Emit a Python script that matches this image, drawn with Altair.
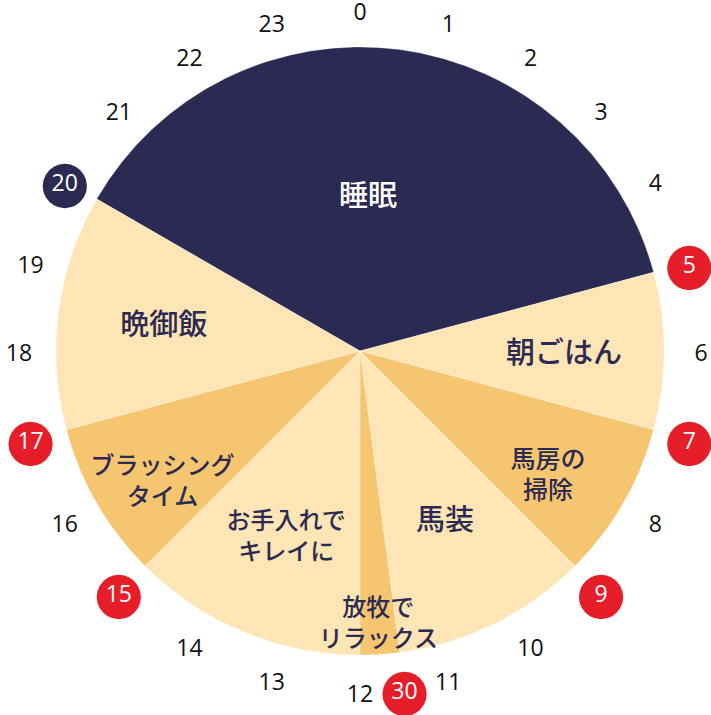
import math
import altair as alt
import pandas as pd

# ---- data -------------------------------------------------------------
activity = ["睡眠", "朝ごはん", "馬房の\n掃除", "馬装", "放牧で\nリラックス",
            "お手入れで\nキレイに", "ブラッシング\nタイム", "晩御飯"]
start_hour = [20, 5, 7, 9, 11.5, 12, 15, 17]
end_hour = [5, 7, 9, 11.5, 12, 15, 17, 20]
tone = ["night", "light", "accent", "light", "accent", "light", "accent", "light"]

hours = list(range(24))
marker_hour = [5, 7, 9, 11.5, 15, 17, 20]
marker_label = ["5", "7", "9", "30", "15", "17", "20"]
marker_tone = ["red", "red", "red", "red", "red", "red", "night"]

# ---- label layout (style) ----------------------------------------------
label_hour = [0.2, 6.05, 8.0, 10.23, 11.73, 13.56, 15.97, 18.49]
label_radius = [154, 204, 217, 190, 259, 186, 229, 198]
label_size = [29, 29, 25, 29, 24, 24, 24, 29]

NAVY = "#2b2a52"
LIGHT = "#fde5b5"
ORANGE = "#f6c56f"
RED = "#e61e2a"
JP = "Noto Sans CJK JP"
NUM = "Open Sans"

W, H = 711, 715
CX, CY = 360, 351
R = 304
LCX, LCY, LR = 360, 354, 341

seg = pd.DataFrame({"activity": activity, "start": start_hour, "end": end_hour, "tone": tone})
seg["end_u"] = [e if e > s else e + 24 for s, e in zip(seg["start"], seg["end"])]

lab = pd.DataFrame({"activity": activity, "lh": label_hour, "lr": label_radius,
                    "fs": label_size, "tone": tone})
lab["tc"] = ["#ffffff" if t == "night" else NAVY for t in tone]

marked_set = set(marker_hour)
hr = pd.DataFrame({"h": [h for h in hours if h not in marked_set]})
hr["label"] = hr["h"].astype(str)

mk = pd.DataFrame({"h": marker_hour, "label": marker_label, "tone": marker_tone})

theta_scale = alt.Scale(domain=[0, 24], range=[0, 2 * math.pi])
color_scale = alt.Scale(domain=["night", "light", "accent", "red"],
                        range=[NAVY, LIGHT, ORANGE, RED])

cx = alt.value(CX)
cy = alt.value(CY)

arcs = alt.Chart(seg).mark_arc(radius=R, stroke="#ffffff", strokeOpacity=0.25,
                               strokeWidth=1).encode(
    theta=alt.Theta("start:Q", scale=theta_scale, stack=None),
    theta2="end_u:Q",
    color=alt.Color("tone:N", scale=color_scale, legend=None),
    x=cx, y=cy,
)

labels = alt.Chart(lab).mark_text(font=JP, fontWeight=500, lineBreak="\n",
                                  lineHeight=31, baseline="middle",
                                  align="center").encode(
    theta=alt.Theta("lh:Q", scale=theta_scale, stack=None),
    radius=alt.Radius("lr:Q", scale=None),
    text="activity:N",
    size=alt.Size("fs:Q", scale=None),
    color=alt.Color("tc:N", scale=None),
    x=cx, y=cy,
)

hour_text = alt.Chart(hr).mark_text(font=NUM, fontSize=23, fontWeight=500,
                                    color="#111111", baseline="middle",
                                    align="center", radius=LR).encode(
    theta=alt.Theta("h:Q", scale=theta_scale, stack=None),
    text="label:N",
    x=alt.value(LCX), y=alt.value(LCY),
)

dots = alt.Chart(mk).mark_text(font="DejaVu Sans", fontSize=58, text="●",
                               baseline="middle", align="center",
                               radius=LR).encode(
    theta=alt.Theta("h:Q", scale=theta_scale, stack=None),
    color=alt.Color("tone:N", scale=color_scale, legend=None),
    x=alt.value(LCX), y=alt.value(LCY),
)

dot_text = alt.Chart(mk).mark_text(font=NUM, fontSize=23, fontWeight=500,
                                   color="#ffffff", baseline="middle",
                                   align="center", radius=LR).encode(
    theta=alt.Theta("h:Q", scale=theta_scale, stack=None),
    text="label:N",
    x=alt.value(LCX), y=alt.value(LCY),
)

chart = alt.layer(arcs, labels, hour_text, dots, dot_text).properties(
    width=W, height=H, padding=0, autosize=alt.AutoSizeParams(type="none"),
    background="#ffffff",
).configure_view(stroke=None)

chart.save("out.html", embed_options={"renderer": "svg", "actions": False})
